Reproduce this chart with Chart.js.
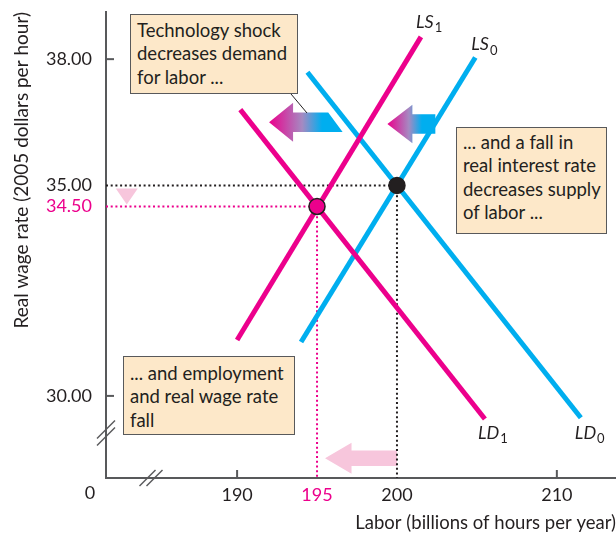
<!DOCTYPE html>
<html>
<head>
<meta charset="utf-8">
<script src="https://cdn.jsdelivr.net/npm/chart.js@4/dist/chart.umd.min.js"></script>
<style>
  html, body { margin: 0; padding: 0; background: #fff; overflow: hidden; }
  #wrap { position: relative; width: 616px; height: 535px; }
  canvas { display: block; }
  .note {
    position: absolute; box-sizing: border-box;
    background: #fde8c9; border: 1.5px solid #58595b;
    font-family: Lato, "Open Sans", sans-serif; font-size: 18.5px; line-height: 23.4px;
    color: #231f20; padding-left: 6px; white-space: nowrap;
  }
</style>
</head>
<body>
<div id="wrap">
  <canvas id="chart" width="616" height="535"></canvas>
  <div class="note" style="left:130px; top:14px; width:168px; height:80px; padding-top:4px;">Technology shock<br>decreases demand<br>for labor ...</div>
  <div class="note" style="left:456px; top:127px; width:151px; height:107px; padding-top:3px;">... and a fall in<br>real interest rate<br>decreases supply<br>of labor ...</div>
  <div class="note" style="left:123px; top:356px; width:172px; height:79px; padding-top:5px;">... and employment<br>and real wage rate<br>fall</div>
</div>
<script>
const PINK = '#ec008c';
const BLUE = '#00aeef';
const INK = '#231f20';
const AXIS = '#58595b';

const xTicks = [190, 195, 200, 210];
const yTicks = [30, 34.5, 35, 38];
const xMin = 181.8, xMax = 213.7;
const yMin = 28.05, yMax = 39.12;

// curve end points: labor (billions of hours) and real wage
const ls0Labor = [194.0, 204.9];
const ls0Wage = [31.28, 38.04];
const ls1Labor = [190.0, 201.5];
const ls1Wage = [31.33, 38.53];
const ld0Labor = [194.4, 211.5];
const ld0Wage = [37.69, 29.48];
const ld1Labor = [190.2, 205.5];
const ld1Wage = [36.8, 29.45];

// equilibrium before and after the shock
const eqLabor = [200, 195];
const eqWage = [35, 34.5];

function pts(xs, ys) {
  return xs.map((x, i) => ({ x, y: ys[i] }));
}

function curve(label, xs, ys, color) {
  return {
    label, data: pts(xs, ys), showLine: true, borderColor: color,
    borderWidth: 5, pointRadius: 0, borderCapStyle: 'butt'
  };
}

function guide(i, color) {
  return {
    label: 'guide' + i,
    data: [{ x: xMin, y: eqWage[i] }, { x: eqLabor[i], y: eqWage[i] }, { x: eqLabor[i], y: yMin }],
    showLine: true, borderColor: color, borderWidth: 2, borderDash: [2, 2.7],
    pointRadius: 0
  };
}

// drop the label overhang padding so the plot keeps its full box
function noPad(s) {
  s.paddingTop = 0; s.paddingBottom = 0; s.paddingLeft = 0; s.paddingRight = 0;
}

// arrow pointing left: tip in data units, tail x (top / bottom edge) in data units
const arrows = [
  { tipX: 192.0, tipY: 36.5, tailTop: 195.7, tailBottom: 196.6, head: 24, headHalf: 19.5, bodyHalf: 9.7, grad: true },
  { tipX: 199.4, tipY: 36.46, tailTop: 202.4, tailBottom: 202.4, head: 25, headHalf: 19.2, bodyHalf: 9.7, grad: true },
  { tipX: 195.5, tipY: 28.52, tailTop: 200, tailBottom: 200, head: 26.5, headHalf: 15.5, bodyHalf: 7.7, grad: false }
];

function drawArrow(ctx, sx, sy, a) {
  const tx = sx.getPixelForValue(a.tipX), ty = sy.getPixelForValue(a.tipY);
  const t1 = sx.getPixelForValue(a.tailTop), t2 = sx.getPixelForValue(a.tailBottom);
  const hx = tx + a.head;
  ctx.beginPath();
  ctx.moveTo(tx, ty);
  ctx.lineTo(hx, ty - a.headHalf);
  ctx.lineTo(hx, ty - a.bodyHalf);
  ctx.lineTo(t1, ty - a.bodyHalf);
  ctx.lineTo(t2, ty + a.bodyHalf);
  ctx.lineTo(hx, ty + a.bodyHalf);
  ctx.lineTo(hx, ty + a.headHalf);
  ctx.closePath();
  if (a.grad) {
    const g = ctx.createLinearGradient(tx, 0, Math.max(t1, t2), 0);
    g.addColorStop(0, PINK);
    g.addColorStop(0.45, '#a58ac2');
    g.addColorStop(0.72, BLUE);
    g.addColorStop(1, BLUE);
    ctx.fillStyle = g;
  } else {
    ctx.fillStyle = '#f7c6dc';
  }
  ctx.fill();
}

const extras = {
  id: 'extras',
  beforeDatasetsDraw(chart) {
    const { ctx, scales: { x, y } } = chart;
    ctx.save();
    arrows.forEach(a => drawArrow(ctx, x, y, a));

    // small drop arrow on the wage axis
    const ax = x.getPixelForValue(183.1);
    const top = y.getPixelForValue(eqWage[0]) + 3;
    const tip = y.getPixelForValue(eqWage[1]) - 2;
    ctx.fillStyle = '#f7c6dc';
    ctx.beginPath();
    ctx.moveTo(ax - 11, top);
    ctx.lineTo(ax + 11, top);
    ctx.lineTo(ax, tip);
    ctx.closePath();
    ctx.fill();

    // connector from the demand note to its arrow
    ctx.strokeStyle = INK;
    ctx.lineWidth = 1;
    ctx.beginPath();
    ctx.moveTo(291, 94);
    ctx.lineTo(307, 113);
    ctx.stroke();
    ctx.restore();
  },
  afterDatasetsDraw(chart) {
    const { ctx, chartArea: ca, scales: { x, y } } = chart;
    ctx.save();
    ctx.strokeStyle = AXIS;
    ctx.lineWidth = 2;

    // inward tick marks
    [190, 210].forEach(v => {
      const px = x.getPixelForValue(v);
      ctx.beginPath(); ctx.moveTo(px, ca.bottom); ctx.lineTo(px, ca.bottom - 8); ctx.stroke();
    });
    [30, 38].forEach(v => {
      const py = y.getPixelForValue(v);
      ctx.beginPath(); ctx.moveTo(ca.left, py); ctx.lineTo(ca.left + 8, py); ctx.stroke();
    });

    // axis breaks
    ctx.lineWidth = 1.5;
    const by = 433;
    [-3.5, 3.5].forEach(d => {
      ctx.beginPath(); ctx.moveTo(ca.left - 9, by + 9 + d); ctx.lineTo(ca.left + 9, by - 9 + d); ctx.stroke();
    });
    const bx = 151;
    [-3.5, 3.5].forEach(d => {
      ctx.beginPath(); ctx.moveTo(bx - 8 + d, ca.bottom + 8); ctx.lineTo(bx + 8 + d, ca.bottom - 8); ctx.stroke();
    });

    // origin label
    ctx.fillStyle = INK;
    ctx.font = '18px Lato, sans-serif';
    ctx.textAlign = 'center';
    ctx.textBaseline = 'middle';
    ctx.fillText('0', 90, 493);

    // curve names
    const names = [
      { n: 'LS', s: '1', xs: ls1Labor, ys: ls1Wage, dx: -5, dy: -15 },
      { n: 'LS', s: '0', xs: ls0Labor, ys: ls0Wage, dx: -4, dy: -13 },
      { n: 'LD', s: '1', xs: ld1Labor, ys: ld1Wage, dx: -7, dy: 14 },
      { n: 'LD', s: '0', xs: ld0Labor, ys: ld0Wage, dx: -6, dy: 15 }
    ];
    ctx.textAlign = 'left';
    names.forEach(o => {
      const px = x.getPixelForValue(o.xs[1]) + o.dx;
      const py = y.getPixelForValue(o.ys[1]) + o.dy;
      ctx.font = 'italic 18px Lato, sans-serif';
      ctx.fillText(o.n, px, py);
      const w = ctx.measureText(o.n).width;
      ctx.font = '13px Lato, sans-serif';
      ctx.fillText(o.s, px + w + 1, py + 6);
    });
    ctx.restore();
  }
};

new Chart(document.getElementById('chart'), {
  type: 'scatter',
  data: {
    datasets: [
      {
        label: 'equilibrium', data: pts(eqLabor, eqWage), pointRadius: 8,
        pointBackgroundColor: [INK, PINK], pointBorderColor: INK, pointBorderWidth: 1.5
      },
      curve('LS1', ls1Labor, ls1Wage, PINK),
      curve('LD1', ld1Labor, ld1Wage, PINK),
      curve('LS0', ls0Labor, ls0Wage, BLUE),
      curve('LD0', ld0Labor, ld0Wage, BLUE),
      guide(0, INK),
      guide(1, PINK)
    ]
  },
  options: {
    responsive: false,
    animation: false,
    layout: { autoPadding: false, padding: { top: 12, left: 0, right: 0, bottom: 0 } },
    plugins: { legend: { display: false }, tooltip: { enabled: false } },
    scales: {
      x: {
        type: 'linear', min: xMin, max: xMax,
        grid: { display: false, drawTicks: false },
        border: { color: AXIS, width: 2 },
        afterBuildTicks: s => { s.ticks = xTicks.map(v => ({ value: v })); },
        afterFit: s => { s.height = 57; noPad(s); },
        ticks: {
          autoSkip: false, maxRotation: 0, padding: 6,
          font: { family: 'Lato', size: 18 },
          color: c => (c.tick && c.tick.value === 195 ? PINK : INK),
          callback: v => String(v)
        },
        title: {
          display: true, text: 'Labor (billions of hours per year)', align: 'end',
          color: INK, font: { family: 'Lato', size: 18.5 }, padding: { top: 0, bottom: 1 }
        }
      },
      y: {
        type: 'linear', min: yMin, max: yMax,
        grid: { display: false, drawTicks: false },
        border: { color: AXIS, width: 2 },
        afterBuildTicks: s => { s.ticks = yTicks.map(v => ({ value: v })); },
        afterFit: s => { s.width = 106; noPad(s); },
        ticks: {
          autoSkip: false, padding: 14,
          font: { family: 'Lato', size: 18 },
          color: c => (c.tick && c.tick.value === 34.5 ? PINK : INK),
          callback: v => v.toFixed(2)
        },
        title: {
          display: true, text: 'Real wage rate (2005 dollars per hour)', align: 'end',
          color: INK, font: { family: 'Lato', size: 19 }, padding: { top: 10, bottom: 0 }
        }
      }
    }
  },
  plugins: [extras]
});
</script>
</body>
</html>
